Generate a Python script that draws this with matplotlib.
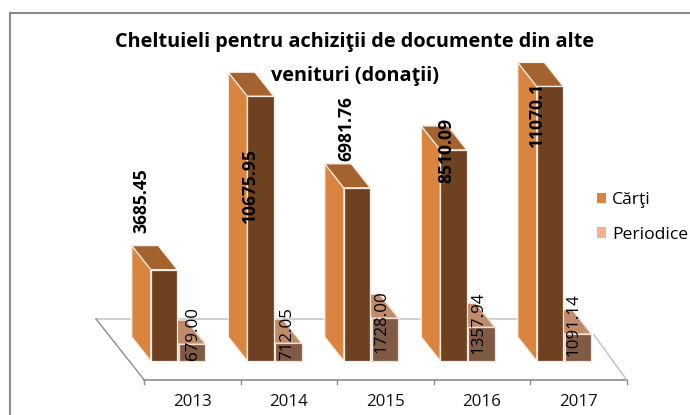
import matplotlib
matplotlib.use("Agg")
import matplotlib.pyplot as plt
from matplotlib.patches import Polygon, Patch

plt.rcParams['font.family'] = ['Open Sans', 'DejaVu Sans']

years = ["2013", "2014", "2015", "2016", "2017"]
carti = [3685.45, 10675.95, 6981.76, 8510.09, 11070.1]
periodice = [679.00, 712.05, 1728.00, 1357.94, 1091.14]
carti_labels = ["3685.45", "10675.95", "6981.76", "8510.09", "11070.1"]
periodice_labels = ["679.00", "712.05", "1728.00", "1357.94", "1091.14"]

# layout, pixels of the 690x415 picture
W, H = 690, 415
X0, XSTEP = 144.3, 96.5      # first category tick, category width
Y0, YSCALE = 361, 0.0248     # bar foot, pixels per unit
DX, DY = -19 / XSTEP, 24 / YSCALE   # 3d depth in data units
BW = 26.5 / XSTEP
C_OFF = 6.5 / XSTEP
P_OFF = 34.5 / XSTEP
FLOOR = -19 / YSCALE
BACK = 42 / YSCALE

fig = plt.figure(figsize=(W / 100, H / 100), dpi=100)
ax = fig.add_axes([0, 0, 1, 1])
ax.set_xlim(-X0 / XSTEP, (W - X0) / XSTEP)
ax.set_ylim(-(H - Y0) / YSCALE, Y0 / YSCALE)
ax.axis("off")


def bar3d(x, v, front, side, top, edge, z):
    w = BW
    ax.add_patch(Polygon([(x, 0), (x + DX, DY), (x + DX, v + DY), (x, v)],
                         fc=side, ec=edge, lw=0.9, zorder=z))
    ax.add_patch(Polygon([(x, v), (x + DX, v + DY), (x + w + DX, v + DY), (x + w, v)],
                         fc=top, ec=edge, lw=0.9, zorder=z))
    ax.add_patch(Polygon([(x, 0), (x + w, 0), (x + w, v), (x, v)],
                         fc=front, ec=edge, lw=0.9, zorder=z))


# floor
grid = "#c8c8c8"
axis = "#8c8c8c"
ax.plot([-0.5, 4.5], [BACK, BACK], color=grid, lw=1.2, zorder=1)
ax.plot([-0.5, 0], [BACK, FLOOR], color=axis, lw=1.0, zorder=1)
ax.plot([0, 5], [FLOOR, FLOOR], color=axis, lw=1.2, zorder=1)
ax.plot([4.66, 5], [26 / YSCALE, FLOOR], color=grid, lw=1.2, zorder=1)
for i in range(6):
    ax.plot([i, i], [FLOOR, FLOOR - 4 / YSCALE], color=axis, lw=1.0, zorder=1)

for i in range(len(years)):
    bar3d(i + P_OFF, periodice[i], "#7f5b46", "#bf8b6a", "#bf8b6a", "#f0e0d6", 2 + i * 2)
    bar3d(i + C_OFF, carti[i], "#6e4120", "#da843f", "#a4632e", "#fbeee2", 3 + i * 2)
    ax.text(i + 0.5, FLOOR - 22 / YSCALE, years[i], ha="center", va="center",
            fontsize=12.2, color="#111111", zorder=30)

# data labels, shifted from the top of their bars (dx, dy in px)
carti_shift = [(-9, 69), (3, -89), (3, 59.4), (6.4, 0), (0, -28.5)]
periodice_shift = [(14, 11), (12, 10), (10, -3), (10, 5), (9, 9)]
for i in range(len(years)):
    sx, sy = carti_shift[i]
    ax.annotate(carti_labels[i], (i + C_OFF, carti[i]), xytext=(sx * 0.72, sy * 0.72),
                textcoords="offset points", rotation=90, ha="center", va="center",
                fontsize=12.6, fontweight="bold", color="black", zorder=40)
    sx, sy = periodice_shift[i]
    ax.annotate(periodice_labels[i], (i + P_OFF, periodice[i]), xytext=(sx * 0.72, sy * 0.72),
                textcoords="offset points", rotation=90, ha="center", va="center",
                fontsize=12.2, color="black", zorder=40)

fig.text(355 / W, 1 - 42 / H, "Cheltuieli pentru achiziţii de documente din alte",
         ha="center", va="center", fontsize=14.3, fontweight="bold", color="black", zorder=50)
fig.text(355 / W, 1 - 76 / H, "venituri (donaţii)",
         ha="center", va="center", fontsize=14.3, fontweight="bold", color="black", zorder=50)

# chart frame
ax.plot([9.5 / XSTEP - X0 / XSTEP] * 2, [-(H - Y0) / YSCALE, (Y0 - 13) / YSCALE], color="#8a8a8a", lw=1.5, zorder=60)
ax.plot([9.5 / XSTEP - X0 / XSTEP, (W - X0) / XSTEP], [(Y0 - 13) / YSCALE] * 2, color="#8a8a8a", lw=1.5, zorder=60)

handles = [Patch(fc="#da843f", label="Cărţi"), Patch(fc="#f4b18a", label="Periodice")]
ax.legend(handles=handles, loc="center left", bbox_to_anchor=(590 / W, 1 - 217.5 / H),
          frameon=False, fontsize=12.6, handlelength=0.52, handleheight=0.52,
          handletextpad=0.34, labelspacing=1.05, borderpad=0, borderaxespad=0.4)

fig.savefig("out.png", dpi=100)
